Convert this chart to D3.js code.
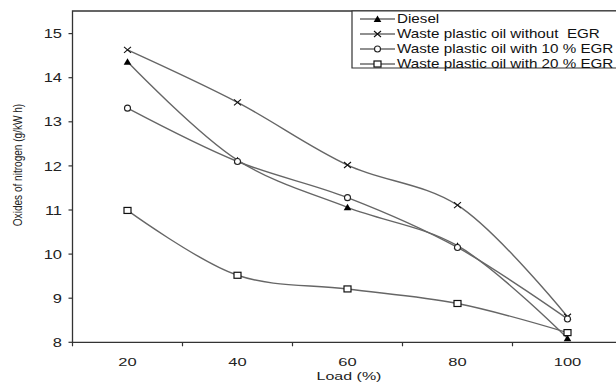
<!DOCTYPE html>
<html>
<head>
<meta charset="utf-8">
<script src="https://cdn.jsdelivr.net/npm/d3@7"></script>
<style>
  body { margin: 0; background: #fff; }
  svg { display: block; font-family: "Liberation Sans", Arial, sans-serif; }
</style>
</head>
<body>
<div id="chart"></div>
<script>
// chart data
const loads = ['20', '40', '60', '80', '100'];
const diesel = [14.36, 12.13, 11.06, 10.19, 8.09];
const wpoNoEgr = [14.63, 13.44, 12.02, 11.11, 8.58];
const wpo10Egr = [13.31, 12.10, 11.28, 10.15, 8.53];
const wpo20Egr = [10.99, 9.52, 9.21, 8.88, 8.22];
const yTicks = [8, 9, 10, 11, 12, 13, 14, 15];
const seriesNames = ['Diesel', 'Waste plastic oil without  EGR', 'Waste plastic oil with 10 % EGR', 'Waste plastic oil with 20 % EGR'];

const W = 616, H = 391;
const margin = { top: 11, left: 72.5 };
const plotBottom = 342.3;
const squash = 0.76; // the scanned figure is squeezed vertically

const svg = d3.select('#chart').append('svg')
    .attr('width', W)
    .attr('height', H);

const x = d3.scaleBand()
    .domain(loads)
    .range([margin.left, margin.left + 5 * 110]);

const y = d3.scaleLinear()
    .domain([8, 8 + (plotBottom - margin.top) / 44.1])
    .range([plotBottom, margin.top]);

const axisColor = '#333';

// frame (right edge falls outside the picture)
svg.append('path')
    .attr('d', `M${W + 10},${margin.top}H${margin.left}V${plotBottom}H${W + 10}`)
    .attr('fill', 'none')
    .attr('stroke', axisColor)
    .attr('stroke-width', 1.3);

// y ticks + labels
const yAxis = svg.append('g');
yAxis.selectAll('line').data(yTicks).enter().append('line')
    .attr('x1', margin.left - 4).attr('x2', margin.left)
    .attr('y1', d => y(d)).attr('y2', d => y(d))
    .attr('stroke', axisColor).attr('stroke-width', 1.2);
yAxis.selectAll('g.lbl').data(yTicks).enter().append('g')
    .attr('class', 'lbl')
    .attr('transform', d => `translate(62,${y(d) + 4.6}) scale(1,${squash})`)
    .append('text')
    .attr('text-anchor', 'end')
    .attr('font-size', 16.5)
    .attr('fill', '#222')
    .text(d => d);

// x ticks between bands, labels at band centres
const xAxis = svg.append('g');
const bounds = loads.map(d => x(d)).concat([x(loads[loads.length - 1]) + x.bandwidth()]);
xAxis.selectAll('line').data(bounds).enter().append('line')
    .attr('x1', d => d).attr('x2', d => d)
    .attr('y1', plotBottom).attr('y2', plotBottom + 4)
    .attr('stroke', axisColor).attr('stroke-width', 1.2);
xAxis.selectAll('g.lbl').data(loads).enter().append('g')
    .attr('class', 'lbl')
    .attr('transform', d => `translate(${x(d) + x.bandwidth() / 2},366) scale(1,0.7)`)
    .append('text')
    .attr('text-anchor', 'middle')
    .attr('font-size', 16.5)
    .attr('fill', '#222')
    .text(d => d);

// axis titles
svg.append('g')
    .attr('transform', `translate(349,380) scale(1,0.72)`)
    .append('text')
    .attr('text-anchor', 'middle')
    .attr('font-size', 16)
    .attr('fill', '#222')
    .text('Load (%)');

svg.append('g')
    .attr('transform', `translate(22,165) scale(1,0.74) rotate(-90)`)
    .append('text')
    .attr('text-anchor', 'middle')
    .attr('font-size', 13.6)
    .attr('fill', '#222')
    .text('Oxides of nitrogen (g/kW h)');

// markers
function drawMarker(g, kind) {
    if (kind === 'triangle') {
        g.append('path').attr('d', 'M0,-3.5L3.8,3L-3.8,3Z').attr('fill', '#000');
    } else if (kind === 'cross') {
        g.append('path').attr('d', 'M-3.5,-3L3.5,3M-3.5,3L3.5,-3')
            .attr('stroke', '#111').attr('stroke-width', 1.1).attr('fill', 'none');
    } else if (kind === 'circle') {
        g.append('circle').attr('r', 3).attr('fill', '#fff')
            .attr('stroke', '#222').attr('stroke-width', 1.1);
    } else {
        g.append('rect').attr('x', -3.5).attr('y', -3).attr('width', 7).attr('height', 6)
            .attr('fill', '#fff').attr('stroke', '#111').attr('stroke-width', 1.2);
    }
}

const series = [
    { name: seriesNames[0], values: diesel, marker: 'triangle' },
    { name: seriesNames[1], values: wpoNoEgr, marker: 'cross' },
    { name: seriesNames[2], values: wpo10Egr, marker: 'circle' },
    { name: seriesNames[3], values: wpo20Egr, marker: 'square' }
];

const line = d3.line()
    .x((d, i) => x(loads[i]) + x.bandwidth() / 2)
    .y(d => y(d))
    .curve(d3.curveCatmullRom.alpha(0.5));

const plot = svg.append('g');
series.forEach(s => {
    plot.append('path')
        .datum(s.values)
        .attr('d', line)
        .attr('fill', 'none')
        .attr('stroke', '#666')
        .attr('stroke-width', 1.4);
});
series.forEach(s => {
    s.values.forEach((v, i) => {
        const g = plot.append('g')
            .attr('transform', `translate(${x(loads[i]) + x.bandwidth() / 2},${y(v)})`);
        drawMarker(g, s.marker);
    });
});

// legend
const legend = svg.append('g');
legend.append('path')
    .attr('d', `M${W + 10},${margin.top}H352V68H${W + 10}`)
    .attr('fill', '#fff')
    .attr('stroke', axisColor)
    .attr('stroke-width', 1.2);
series.forEach((s, i) => {
    const ly = 19 + i * 15;
    const row = legend.append('g');
    row.append('line')
        .attr('x1', 360).attr('x2', 395)
        .attr('y1', ly).attr('y2', ly)
        .attr('stroke', '#222').attr('stroke-width', 1.2);
    drawMarker(row.append('g').attr('transform', `translate(377.5,${ly})`), s.marker);
    row.append('g')
        .attr('transform', `translate(397,${ly + 4.2}) scale(1,0.8)`)
        .append('text')
        .attr('font-size', 15.2)
        .attr('fill', '#111')
        .style('white-space', 'pre')
        .text(s.name);
});
</script>
</body>
</html>
